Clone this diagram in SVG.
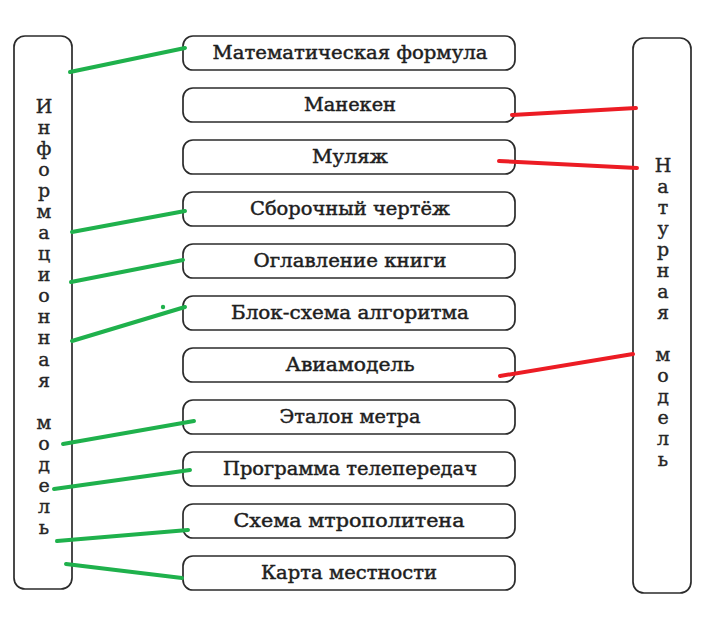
<svg xmlns="http://www.w3.org/2000/svg" width="723" height="644" viewBox="0 0 723 644">
<style>
.box{fill:#fff;stroke:#2b2b2b;stroke-width:1.7}
.lbl{font-family:"DejaVu Serif","Liberation Serif",serif;font-size:18px;fill:#1e1e1e;stroke:#1e1e1e;stroke-width:0.45;text-anchor:middle}
.vt{font-family:"DejaVu Serif","Liberation Serif",serif;font-size:19px;fill:#262626;stroke:#262626;stroke-width:0.4;text-anchor:middle}
.g{stroke:#1fb14c;stroke-width:4;stroke-linecap:round;fill:none}
.r{stroke:#ec1c24;stroke-width:4;stroke-linecap:round;fill:none}
</style>
<rect width="723" height="644" fill="#fff"/>
<g id="info-model">
<rect class="box" x="14" y="36" width="58" height="553" rx="11"/>
<text class="vt" x="44" y="113">И</text>
<text class="vt" x="44" y="134">н</text>
<text class="vt" x="44" y="155">ф</text>
<text class="vt" x="44" y="176">о</text>
<text class="vt" x="44" y="197">р</text>
<text class="vt" x="44" y="218">м</text>
<text class="vt" x="44" y="239">а</text>
<text class="vt" x="44" y="260">ц</text>
<text class="vt" x="44" y="281">и</text>
<text class="vt" x="44" y="302">о</text>
<text class="vt" x="44" y="323">н</text>
<text class="vt" x="44" y="344">н</text>
<text class="vt" x="44" y="366">а</text>
<text class="vt" x="44" y="387">я</text>
<text class="vt" x="44" y="429">м</text>
<text class="vt" x="44" y="450">о</text>
<text class="vt" x="44" y="471">д</text>
<text class="vt" x="44" y="492">е</text>
<text class="vt" x="44" y="513">л</text>
<text class="vt" x="44" y="534">ь</text>
</g>
<g id="natural-model">
<rect class="box" x="633" y="38" width="58" height="555" rx="11"/>
<text class="vt" x="663" y="172">Н</text>
<text class="vt" x="663" y="193">а</text>
<text class="vt" x="663" y="214">т</text>
<text class="vt" x="663" y="235">у</text>
<text class="vt" x="663" y="256">р</text>
<text class="vt" x="663" y="277">н</text>
<text class="vt" x="663" y="298">а</text>
<text class="vt" x="663" y="319">я</text>
<text class="vt" x="663" y="361">м</text>
<text class="vt" x="663" y="382">о</text>
<text class="vt" x="663" y="403">д</text>
<text class="vt" x="663" y="424">е</text>
<text class="vt" x="663" y="445">л</text>
<text class="vt" x="663" y="466">ь</text>
</g>
<g id="n1"><rect class="box" x="183" y="36" width="332" height="34" rx="10"/><text class="lbl" x="350" y="59" textLength="275" lengthAdjust="spacingAndGlyphs">Математическая формула</text></g>
<g id="n2"><rect class="box" x="183" y="88" width="332" height="34" rx="10"/><text class="lbl" x="350" y="111" textLength="92" lengthAdjust="spacingAndGlyphs">Манекен</text></g>
<g id="n3"><rect class="box" x="183" y="140" width="332" height="34" rx="10"/><text class="lbl" x="350" y="163" textLength="76" lengthAdjust="spacingAndGlyphs">Муляж</text></g>
<g id="n4"><rect class="box" x="183" y="192" width="332" height="34" rx="10"/><text class="lbl" x="350" y="215" textLength="200" lengthAdjust="spacingAndGlyphs">Сборочный чертёж</text></g>
<g id="n5"><rect class="box" x="183" y="244" width="332" height="34" rx="10"/><text class="lbl" x="350" y="267" textLength="193" lengthAdjust="spacingAndGlyphs">Оглавление книги</text></g>
<g id="n6"><rect class="box" x="183" y="296" width="332" height="34" rx="10"/><text class="lbl" x="350" y="319" textLength="238" lengthAdjust="spacingAndGlyphs">Блок-схема алгоритма</text></g>
<g id="n7"><rect class="box" x="183" y="348" width="332" height="34" rx="10"/><text class="lbl" x="350" y="371" textLength="129" lengthAdjust="spacingAndGlyphs">Авиамодель</text></g>
<g id="n8"><rect class="box" x="183" y="400" width="332" height="34" rx="10"/><text class="lbl" x="350" y="423" textLength="141" lengthAdjust="spacingAndGlyphs">Эталон метра</text></g>
<g id="n9"><rect class="box" x="183" y="452" width="332" height="34" rx="10"/><text class="lbl" x="350" y="475" textLength="254" lengthAdjust="spacingAndGlyphs">Программа телепередач</text></g>
<g id="n10"><rect class="box" x="183" y="504" width="332" height="34" rx="10"/><text class="lbl" x="349" y="527" textLength="231" lengthAdjust="spacingAndGlyphs">Схема мтрополитена</text></g>
<g id="n11"><rect class="box" x="183" y="556" width="332" height="34" rx="10"/><text class="lbl" x="349" y="579" textLength="176" lengthAdjust="spacingAndGlyphs">Карта местности</text></g>
<g id="connectors">
<line class="g" x1="70" y1="72" x2="185" y2="48"/>
<line class="g" x1="72" y1="232" x2="185" y2="211"/>
<line class="g" x1="71" y1="282" x2="183" y2="260"/>
<line class="g" x1="72" y1="341" x2="185" y2="307"/>
<line class="g" x1="63" y1="444" x2="194" y2="421"/>
<line class="g" x1="54" y1="489" x2="190" y2="470"/>
<line class="g" x1="57" y1="541" x2="188" y2="530"/>
<line class="g" x1="66" y1="564" x2="182" y2="578"/>
<line class="r" x1="512" y1="115" x2="636" y2="108"/>
<line class="r" x1="499" y1="161" x2="637" y2="168"/>
<line class="r" x1="500" y1="376" x2="633" y2="354"/>
<circle cx="163" cy="307" r="2.2" fill="#1fb14c"/>
</g>
</svg>
